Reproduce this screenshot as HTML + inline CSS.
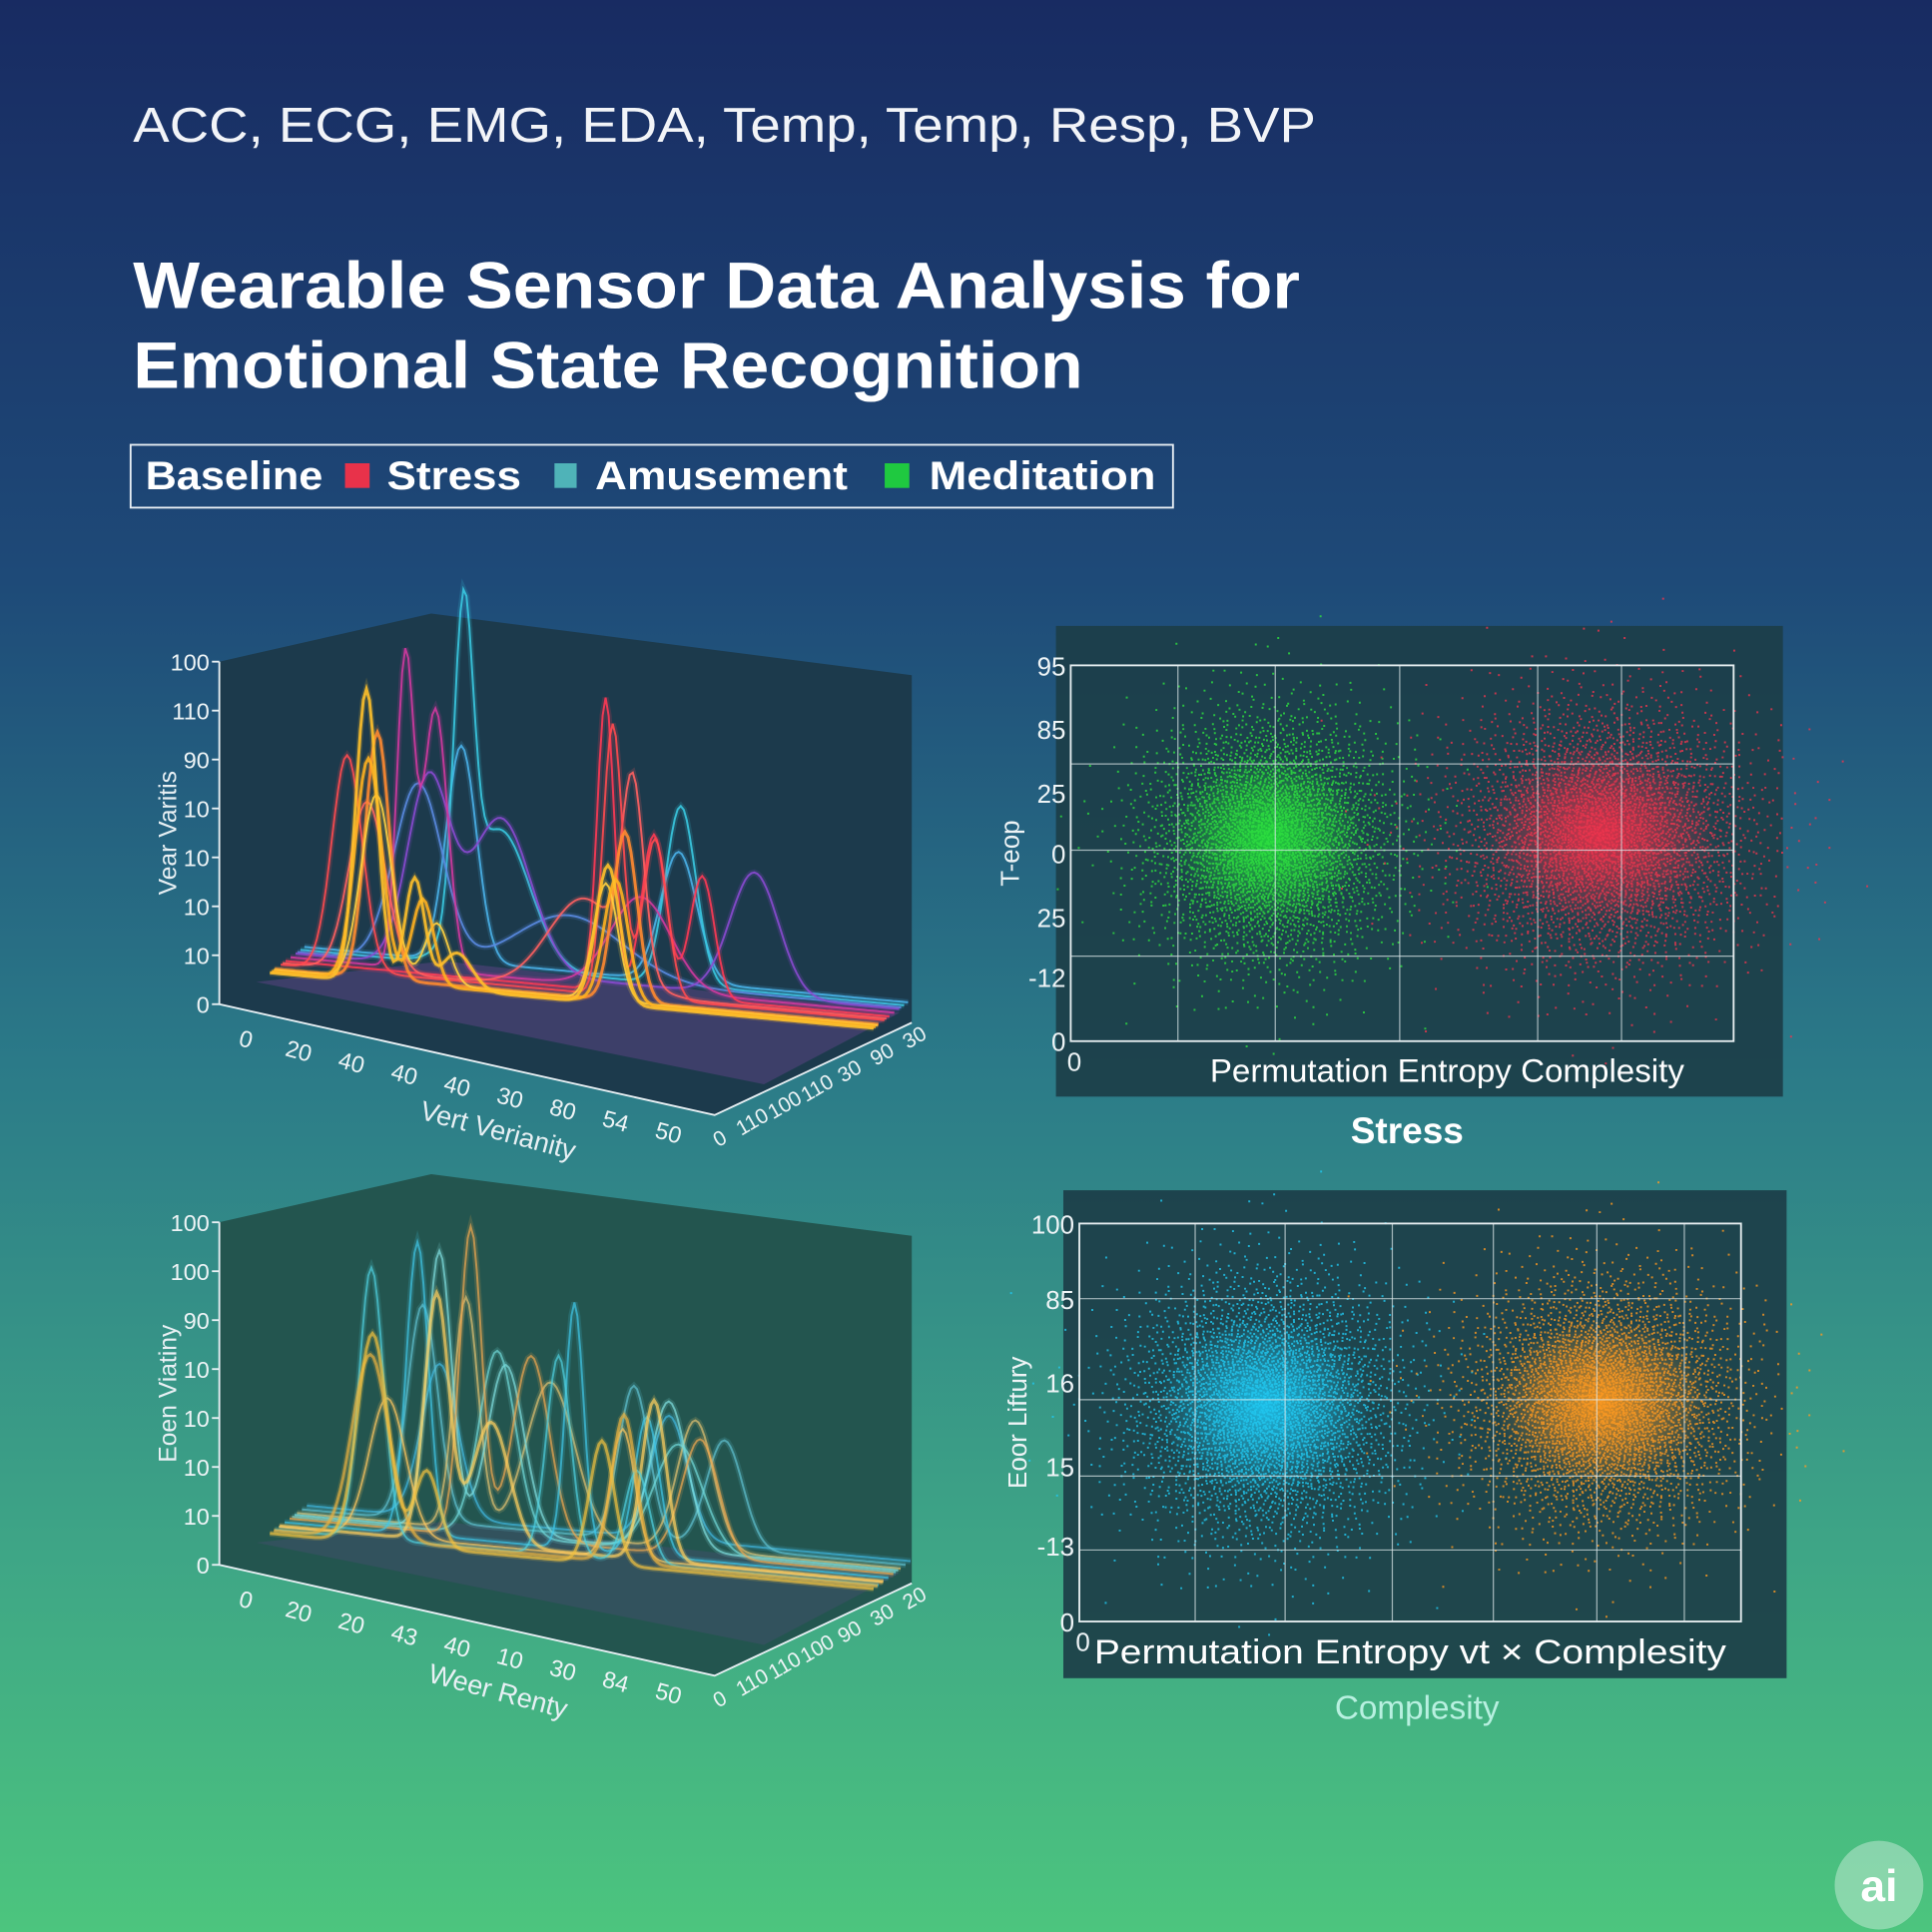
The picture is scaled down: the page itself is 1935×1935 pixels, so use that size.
<!DOCTYPE html>
<html><head><meta charset="utf-8">
<style>
html,body{margin:0;padding:0;width:1935px;height:1935px;overflow:hidden}
svg{display:block}
text{font-family:"Liberation Sans",sans-serif}
</style></head>
<body>
<svg id="root" width="1935" height="1935" viewBox="0 0 1568 1568" xmlns="http://www.w3.org/2000/svg">
<defs>
<linearGradient id="bg" x1="0" y1="0" x2="0" y2="1">
<stop offset="0" stop-color="#182b62"/>
<stop offset="0.3" stop-color="#1e4a78"/>
<stop offset="0.55" stop-color="#2b7a88"/>
<stop offset="0.8" stop-color="#3ea586"/>
<stop offset="1" stop-color="#4cc57e"/>
</linearGradient>
<radialGradient id="gGlow"><stop offset="0" stop-color="#22e03a" stop-opacity="0.9"/><stop offset="1" stop-color="#22e03a" stop-opacity="0"/></radialGradient>
<radialGradient id="rGlow"><stop offset="0" stop-color="#f0304a" stop-opacity="0.9"/><stop offset="1" stop-color="#f0304a" stop-opacity="0"/></radialGradient>
<radialGradient id="cGlow"><stop offset="0" stop-color="#1ec8f5" stop-opacity="0.9"/><stop offset="1" stop-color="#1ec8f5" stop-opacity="0"/></radialGradient>
<radialGradient id="oGlow"><stop offset="0" stop-color="#ff9a1e" stop-opacity="0.9"/><stop offset="1" stop-color="#ff9a1e" stop-opacity="0"/></radialGradient>
</defs>
<rect width="1568" height="1568" fill="url(#bg)"/>

<text x="108" y="115" font-size="40" fill="#f2f4f8" textLength="960" lengthAdjust="spacingAndGlyphs">ACC, ECG, EMG, EDA, Temp, Temp, Resp, BVP</text>
<text x="108" y="250" font-size="53" font-weight="bold" fill="#ffffff" textLength="947" lengthAdjust="spacingAndGlyphs">Wearable Sensor Data Analysis for</text>
<text x="108" y="315" font-size="53" font-weight="bold" fill="#ffffff" textLength="771" lengthAdjust="spacingAndGlyphs">Emotional State Recognition</text>

<g>
<rect x="106" y="361" width="846" height="51" fill="none" stroke="#e8eef4" stroke-width="1.5"/>
<text x="118" y="397" font-size="32" font-weight="bold" fill="#fff" textLength="144" lengthAdjust="spacingAndGlyphs">Baseline</text>
<rect x="280" y="376" width="20" height="20" fill="#e8324a"/>
<text x="314" y="397" font-size="32" font-weight="bold" fill="#fff" textLength="109" lengthAdjust="spacingAndGlyphs">Stress</text>
<rect x="450" y="376" width="18" height="20" fill="#4fb3b8"/>
<text x="483" y="397" font-size="32" font-weight="bold" fill="#fff" textLength="205" lengthAdjust="spacingAndGlyphs">Amusement</text>
<rect x="718" y="376" width="20" height="20" fill="#1fc940"/>
<text x="754" y="397" font-size="32" font-weight="bold" fill="#fff" textLength="184" lengthAdjust="spacingAndGlyphs">Meditation</text>
</g>

<g id="p3dTop"></g>
<g id="p3dBot"></g>
<g id="scTop"></g>
<g id="scBot"></g>

<text x="1142" y="928" font-size="30" font-weight="bold" fill="#fff" text-anchor="middle">Stress</text>
<text x="1150" y="1395" font-size="27" fill="#b8f0e0" text-anchor="middle">Complesity</text>

<g>
<circle cx="1525" cy="1530" r="36" fill="#ffffff" fill-opacity="0.35"/>
<text x="1525" y="1543" font-size="36" font-weight="bold" fill="#fff" text-anchor="middle">ai</text>
</g>
</svg>

<script>
// ---------- Data ----------
const topYTicks = ["100","110","90","10","10","10","10","0"];
const botYTicks = ["100","100","90","10","10","10","10","0"];
const topFrontTicks = ["0","20","40","40","40","30","80","54","50"];
const botFrontTicks = ["0","20","20","43","40","10","30","84","50"];
const sideTicks = ["0","110","100","110","30","90","30"];
const sideTicksBot = ["0","110","110","100","90","30","20"];
// ridge curves: colour, depth (0 front .. 1 back), peaks [position 0-100, height 0-100, width]
const topCurveColors = ["#ffc02a","#ffb020","#ff8a30","#ff4a50","#ff3a55","#d03aa0","#8a4ad0","#3ac8e0","#4ab0e8","#5a8ae0","#ff6060","#ffd040"];
const topCurveDepth  = [0.10,0.14,0.20,0.32,0.42,0.52,0.62,0.72,0.80,0.66,0.36,0.18];
const topCurvePeaks = [
 [[16,95,1.8],[24,35,1.6],[31,12,2.5],[56,45,2]],
 [[16,72,2.2],[25,28,1.8],[57,40,2]],
 [[17,80,2],[58,55,2]],
 [[11,70,2.5],[55,88,1.6],[62,52,2]],
 [[53,95,1.4],[61,52,2],[69,40,2]],
 [[19,100,1.4],[24,85,2],[58,30,5]],
 [[22,60,3.5],[34,50,5],[76,40,4]],
 [[27,100,1.6],[33,45,5],[63,58,2.5]],
 [[26,70,2.5],[62,42,3]],
 [[20,58,4],[45,20,9]],
 [[14,55,3],[50,30,6],[58,60,1.8]],
 [[17,60,2.5],[27,20,2],[55,38,2]]
];
const botCurveColors = ["#f0c040","#e8b040","#ffd060","#50d0e0","#40c8e8","#80e0e0","#f0a850","#60c0d0","#e0c070","#40b8e0","#ffc860","#70d8d8"];
const botCurveDepth  = [0.10,0.18,0.30,0.20,0.40,0.60,0.50,0.75,0.65,0.85,0.28,0.55];
const botCurvePeaks = [
 [[17,68,2.5],[26,25,2],[55,40,2]],
 [[16,60,3],[58,48,2]],
 [[26,80,2],[35,40,3],[62,52,2]],
 [[16,88,2],[47,65,2],[60,30,2]],
 [[22,95,1.8],[48,80,1.5],[60,45,2]],
 [[24,90,2],[35,55,3],[62,48,3]],
 [[30,100,1.8],[40,60,3],[68,38,3]],
 [[20,70,2.5],[55,50,2.5],[70,35,3]],
 [[28,75,2],[42,50,4],[66,42,3]],
 [[22,50,3],[60,40,3]],
 [[18,45,3],[57,42,2]],
 [[34,60,3],[64,35,4]]
];
// scatter clusters: centre x, centre y (0-100), spread x, spread y
const topClusterColors = ["#2ee040","#f0344e"];
const topClusterCx = [30, 80];
const topClusterCy = [54, 55];
const topClusterSx = [9, 11];
const topClusterSy = [16, 17];
const topYLabels = ["95","85","25","0","25","-12","0"];
const topYLabelVals = [100, 83, 66, 50, 33, 17, 0];
const botClusterColors = ["#20c8f0","#ff9a20"];
const botClusterCx = [28, 79];
const botClusterCy = [54, 55];
const botClusterSx = [10, 10];
const botClusterSy = [16, 15];
const botYLabels = ["100","85","16","15","-13","0"];
const botYLabelVals = [100, 81, 60, 39, 19, 0];

const NS = "http://www.w3.org/2000/svg";
function mk(tag, attrs, parent){const e=document.createElementNS(NS,tag);for(const k in attrs)e.setAttribute(k,attrs[k]);parent.appendChild(e);return e;}

function ridge(g, dy, yTicks, frontTicks, sTicks, colors, depths, peaks, faceFill, yTitle, xTitle, opacity){
  const face = mk("polygon",{points:`178,${537+dy} 350,${498+dy} 740,${548+dy} 740,${830+dy} 580,${905+dy} 178,${815+dy}`,fill:faceFill},g);
  
  
  const floor = mk("polygon",{points:`208,${797+dy} 360,${780+dy} 730,${822+dy} 620,${880+dy}`,fill:"#7a4aa0","fill-opacity":dy?0.18:0.35},g);
  
  
  const ax = mk("polyline",{points:`178,${537+dy} 178,${815+dy} 580,${905+dy} 740,${830+dy}`,fill:"none",stroke:"#e8f0f4","stroke-width":1.5},g);
  
  
  yTicks.forEach((t,i)=>{
    const y = 537+dy + i*(278/(yTicks.length-1));
    mk("line",{x1:172,y1:y,x2:178,y2:y,stroke:"#e8f0f4","stroke-width":1.5},g);
    const tx = mk("text",{x:170,y:y+7,"font-size":19,fill:"#eef4f6","text-anchor":"end"},g);
    tx.textContent=t;
    
    
  });
  frontTicks.forEach((t,i)=>{
    const f = i/(frontTicks.length-1);
    const x = 200+f*343, y = 842+dy+f*76;
    const tx = mk("text",{x:x,y:y+8,"font-size":19,fill:"#eef4f6","text-anchor":"middle",transform:`rotate(15 ${x} ${y})`},g);
    tx.textContent=t;
    
    
  });
  sTicks.forEach((t,i)=>{
    const f = i/(sTicks.length-1);
    const x = 583+f*158, y = 922+dy-f*82;
    const tx = mk("text",{x:x,y:y+8,"font-size":17,fill:"#eef4f6","text-anchor":"middle",transform:`rotate(-30 ${x} ${y})`},g);
    tx.textContent=t;
    
    
  });
  const yt = mk("text",{x:143,y:676+dy,"font-size":20,fill:"#e8f0f4","text-anchor":"middle",transform:`rotate(-90 143 ${676+dy})`},g);
  yt.textContent=yTitle;
  
  
  const xt = mk("text",{x:405,y:925+dy,"font-size":22,fill:"#e8f0f4","text-anchor":"middle",transform:`rotate(15 405 ${915+dy})`},g);
  xt.textContent=xTitle;
  
  
  const order = depths.map((d,i)=>i).sort((a,b)=>depths[b]-depths[a]);
  order.forEach(ci=>{
    const z = depths[ci];
    let d="";
    for(let x=0;x<=100;x+=0.5){
      let v=3;
      peaks[ci].forEach(p=>{v+=p[1]*Math.exp(-((x-p[0])**2)/(2*p[2]*p[2]));});
      const sx = 215 + x*4.9 + z*40;
      const sy = 800+dy + x*0.45 - z*30 - v*2.5;
      d += (x===0?"M":"L")+sx.toFixed(1)+","+sy.toFixed(1);
    }
    const glow = mk("path",{d:d,fill:"none",stroke:colors[ci],"stroke-width":5,"stroke-opacity":0.18},g);
    
    
    const p = mk("path",{d:d,fill:"none",stroke:colors[ci],"stroke-width":ci<3?2.4:1.6,"stroke-opacity":opacity},g);
    
    
  });
}
ridge(document.getElementById("p3dTop"),0,topYTicks,topFrontTicks,sideTicks,topCurveColors,topCurveDepth,topCurvePeaks,"#1c3a4c","Vear Varitis","Vert Verianity",0.9);
ridge(document.getElementById("p3dBot"),455,botYTicks,botFrontTicks,sideTicksBot,botCurveColors,botCurveDepth,botCurvePeaks,"#23554f","Eoen Viatiny","Weer Renty",0.7);

function vdc(n,b){let r=0,f=1/b;while(n>0){r+=f*(n%b);n=Math.floor(n/b);f/=b;}return r;}
function scatter(g, panel, plot, vLines, hLines, yLabels, yVals, colors, cx, cy, sx, sy, glowIds, yTitle, xTitle, xFont, xStart, xLen){
  const bg = mk("rect",{x:panel[0],y:panel[1],width:panel[2]-panel[0],height:panel[3]-panel[1],fill:"#1c3e48","fill-opacity":0.92},g);
  
  
  const [x0,y0,x1,y1]=plot;
  const X=v=>x0+v/100*(x1-x0), Y=v=>y1-v/100*(y1-y0);
  colors.forEach((c,k)=>{
    const gl = mk("ellipse",{cx:X(cx[k]),cy:Y(cy[k]),rx:sx[k]*(x1-x0)/100*1.6,ry:sy[k]*(y1-y0)/100*1.4,fill:`url(#${glowIds[k]})`},g);
    
    
    let s="";
    const N=4200;
    for(let i=1;i<=N;i++){
      const u=Math.max(vdc(i,2),1e-4), w=vdc(i,3);
      const r=Math.sqrt(-2*Math.log(u));
      const px=X(cx[k]+sx[k]*r*Math.cos(2*Math.PI*w));
      const py=Y(cy[k]+sy[k]*r*Math.sin(2*Math.PI*w));
      s+=`M${px.toFixed(1)},${py.toFixed(1)}h1.6v1.6h-1.6z`;
    }
    const pts = mk("path",{d:s,fill:c,"fill-opacity":0.8},g);
    
    
  });
  vLines.forEach(v=>{const l=mk("line",{x1:v,y1:y0,x2:v,y2:y1,stroke:"#dde8ea","stroke-width":1,"stroke-opacity":0.7},g);});
  hLines.forEach(h=>{const l=mk("line",{x1:x0,y1:h,x2:x1,y2:h,stroke:"#dde8ea","stroke-width":1,"stroke-opacity":0.7},g);});
  const fr = mk("rect",{x:x0,y:y0,width:x1-x0,height:y1-y0,fill:"none",stroke:"#e6eef0","stroke-width":1.5},g);
  
  
  yLabels.forEach((t,i)=>{
    const tx=mk("text",{x:x0-4,y:Y(yVals[i])+8,"font-size":21,fill:"#eef4f6","text-anchor":"end"},g);
    tx.textContent=t;
    
    
  });
  const z=mk("text",{x:x0-3,y:y1+24,"font-size":21,fill:"#eef4f6"},g);
  z.textContent="0";
  
  
  const yt=mk("text",{x:panel[0]-30,y:(y0+y1)/2,"font-size":21,fill:"#eef4f6","text-anchor":"middle",transform:`rotate(-90 ${panel[0]-30} ${(y0+y1)/2})`},g);
  yt.textContent=yTitle;
  
  
  const xt=mk("text",{x:xStart,y:panel[3]-12,"font-size":xFont,fill:"#ffffff",textLength:xLen,lengthAdjust:"spacingAndGlyphs"},g);
  xt.textContent=xTitle;
  
  
}
scatter(document.getElementById("scTop"),[857,508,1447,890],[869,540,1407,845],[956,1035,1136,1248,1316],[620,690,776],
  topYLabels,topYLabelVals,topClusterColors,topClusterCx,topClusterCy,topClusterSx,topClusterSy,["gGlow","rGlow"],"T-eop","Permutation Entropy Complesity",26,982,385);
scatter(document.getElementById("scBot"),[863,966,1450,1362],[876,993,1413,1316],[970,1043,1130,1212,1296,1367],[1054,1136,1198,1258],
  botYLabels,botYLabelVals,botClusterColors,botClusterCx,botClusterCy,botClusterSx,botClusterSy,["cGlow","oGlow"],"Eoor Liftury","Permutation Entropy vt \u00d7 Complesity",28,888,513);
</script>
</body></html>
